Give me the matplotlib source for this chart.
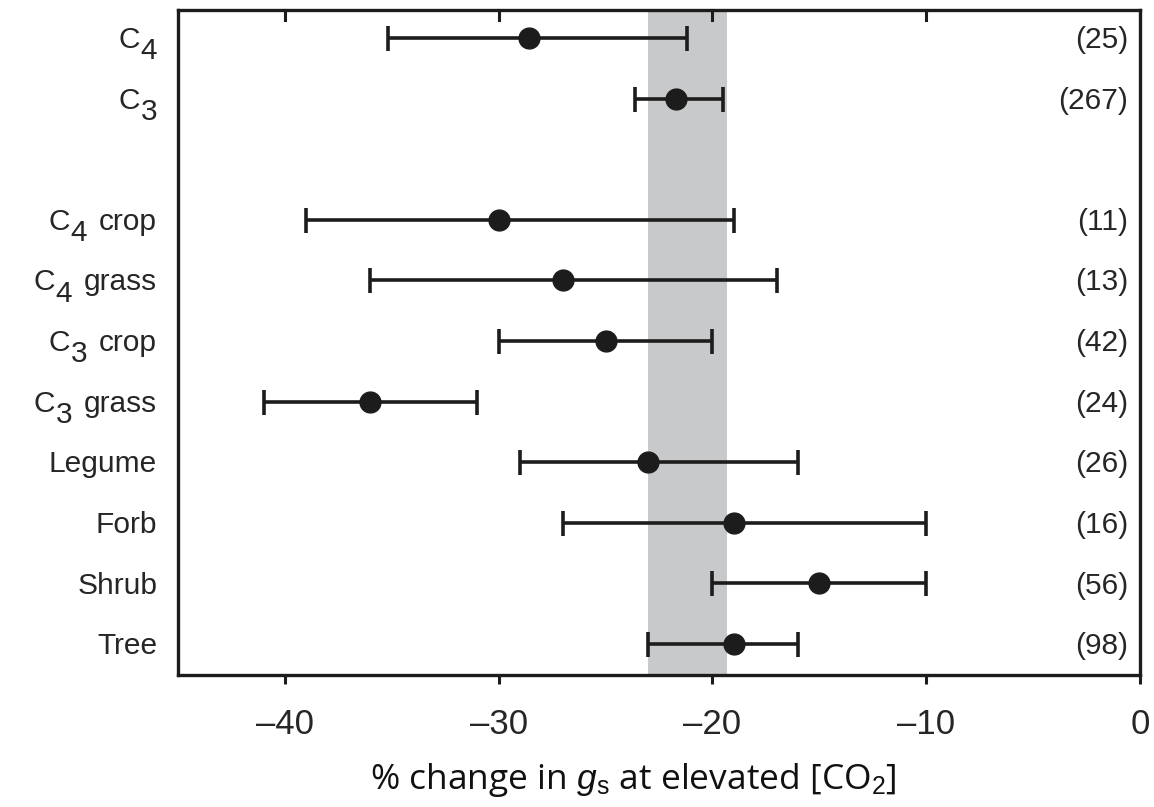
import matplotlib
matplotlib.use("Agg")
import matplotlib.pyplot as plt
import numpy as np

# ---- data ----
categories = ['C_4', 'C_3', 'C_4 crop', 'C_4 grass', 'C_3 crop',
              'C_3 grass', 'Legume', 'Forb', 'Shrub', 'Tree']
means = [-28.6, -21.7, -30.0, -27.0, -25.0, -36.0, -23.0, -19.0, -15.0, -19.0]
lower = [-35.2, -23.6, -39.0, -36.0, -30.0, -41.0, -29.0, -27.0, -20.0, -23.0]
upper = [-21.2, -19.5, -19.0, -17.0, -20.0, -31.0, -16.0, -10.0, -10.0, -16.0]
counts = ['(25)', '(267)', '(11)', '(13)', '(42)', '(24)', '(26)', '(16)', '(56)', '(98)']
band = [-23.0, -19.3]
xticks = [-40, -30, -20, -10, 0]

plt.rcParams['font.family'] = ['Liberation Sans', 'DejaVu Sans']
plt.rcParams['mathtext.fontset'] = 'custom'
plt.rcParams['mathtext.rm'] = 'Liberation Sans'
plt.rcParams['mathtext.it'] = 'Liberation Sans:italic'
plt.rcParams['mathtext.bf'] = 'Liberation Sans:bold'

ink = '#1c1c1c'
txt = '#262626'
lab_font = ['Liberation Sans', 'DejaVu Sans']
lab_fs = 21.5
vshift = -1.5

fig = plt.figure(figsize=(11.54, 8.07), dpi=100)
ax = fig.add_axes([178/1154, 1-675/807, (1140-178)/1154, (675-10)/807])

# y positions: top-down with one blank slot after the first group of two
n = len(categories)
ypos = []
y = n
for i in range(n):
    ypos.append(y)
    y -= 2 if i == 1 else 1
ypos = np.array(ypos, dtype=float)

means_a = np.array(means)
xerr = np.vstack([means_a - np.array(lower), np.array(upper) - means_a])

ax.axvspan(band[0], band[1], color='#c8c9cb', lw=0, zorder=0)
ax.errorbar(means_a, ypos, xerr=xerr, fmt='o', color=ink, ecolor=ink,
            elinewidth=2.6, capsize=9, capthick=2.6, markersize=15, zorder=3)

for yy, c in zip(ypos, counts):
    ax.annotate(c, xy=(1, yy), xycoords=('axes fraction', 'data'),
                xytext=(-8.5, vshift), textcoords='offset points',
                ha='right', va='center', fontsize=lab_fs, family=lab_font,
                color=txt)

# row labels with large, lowered subscripts
pad = 15
drop = 8.0
for yy, lab in zip(ypos, categories):
    if '_' in lab:
        pre, rest = lab.split('_', 1)
        sub, suf = rest[0], rest[1:].strip()
    else:
        pre, sub, suf = lab, '', ''
    kw = dict(ha='right', va='center', fontsize=lab_fs, family=lab_font,
              color=txt, textcoords='offset points', annotation_clip=False)
    anchor = None
    if suf:
        anchor = ax.annotate(suf, xy=(0, yy), xycoords=('axes fraction', 'data'),
                             xytext=(-pad, vshift), **kw)
    if sub:
        if anchor is None:
            s = ax.annotate(sub, xy=(0, yy), xycoords=('axes fraction', 'data'),
                            xytext=(-pad, vshift - drop), **kw)
        else:
            s = ax.annotate(sub, xy=(0, 0.5), xycoords=anchor,
                            xytext=(-8.5, -drop), **kw)
        ax.annotate(pre, xy=(0, 0.5), xycoords=s, xytext=(-0.5, drop), **kw)
    elif not suf:
        ax.annotate(pre, xy=(0, yy), xycoords=('axes fraction', 'data'),
                    xytext=(-pad, vshift), **kw)

ax.set_xlim(-45, 0)
ax.set_ylim(ypos.min() - 0.51, ypos.max() + 0.46)
ax.set_yticks(ypos)
ax.set_yticklabels([])
ax.tick_params(axis='y', length=0)
ax.set_xticks(xticks)
ax.set_xticklabels(['\u2013' + str(abs(t)) if t < 0 else str(t) for t in xticks],
                   fontsize=25, color=txt)
ax.tick_params(axis='x', direction='out', length=6.5, width=2.2, pad=17,
               top=False, color=ink)
for s_ in ax.spines.values():
    s_.set_linewidth(2.4)
    s_.set_color(ink)

# top inward ticks
for t in xticks[:-1]:
    ax.plot([t, t], [1, 0.985], transform=ax.get_xaxis_transform(),
            color=ink, lw=2.2, clip_on=False, zorder=4)

fig.text(633/1154, 1-780/807, r'% change in $g_{\mathrm{s}}$ at elevated [CO$_2$]',
         ha='center', va='center', fontsize=25.5, family=['Open Sans', 'DejaVu Sans'],
         color='#111111')

fig.savefig('out.png', dpi=100)
